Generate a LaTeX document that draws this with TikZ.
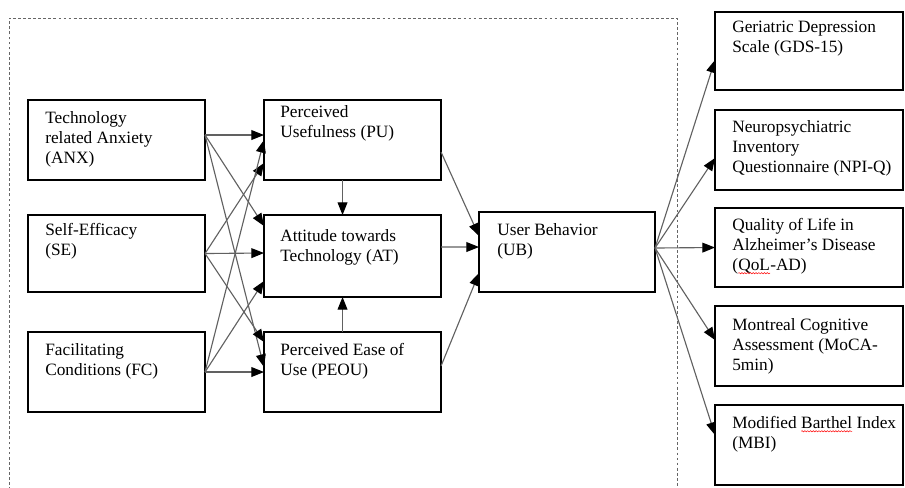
\documentclass[tikz,border=0pt]{standalone}
\usepackage{fontspec}
\setmainfont{Liberation Serif}
\usetikzlibrary{arrows.meta, calc, positioning, decorations.pathmorphing}

\tikzset{
    box/.style={
           rectangle,
           draw=black, line width=1.4pt,
           minimum width=4.425cm,
           minimum height=2cm,
           anchor=north west,
           inner sep=0pt, outer sep=0pt,
           },
    txt/.style={
           anchor=north west,
           inner sep=0pt,
           align=left,
           font=\fontsize{12.3}{14.2}\selectfont,
           },
    conn/.style={
           draw=black!62, line width=0.8pt,
           -{Triangle[length=9pt,width=7pt,color=black]},
           },
    frame/.style={
           draw=black!60, line width=0.6pt,
           dash pattern=on 2pt off 1.6pt,
           },
    squiggle/.style={
           draw=red, line width=0.35pt,
           decorate, decoration={snake, amplitude=0.45pt, segment length=2pt},
           },
}
\newcommand{\redwave}[1]{\tikz[baseline=(wv.base)]{\node[inner sep=0pt, outer sep=0pt] (wv) {#1};
    \draw[squiggle] ([yshift=-2pt]wv.base west) -- ([yshift=-2pt]wv.base east);}}
\newcommand{\TxtANX}{Technology\\related Anxiety\\(ANX)}
\newcommand{\TxtSE}{Self-Efficacy\\(SE)}
\newcommand{\TxtFC}{Facilitating\\Conditions (FC)}
\newcommand{\TxtPU}{Perceived\\Usefulness (PU)}
\newcommand{\TxtAT}{Attitude towards\\Technology (AT)}
\newcommand{\TxtPEOU}{Perceived Ease of\\Use (PEOU)}
\newcommand{\TxtUB}{User Behavior\\(UB)}
\newcommand{\TxtGDS}{Geriatric Depression\\Scale (GDS-15)}
\newcommand{\TxtNPI}{Neuropsychiatric\\Inventory\\Questionnaire (NPI-Q)}
\newcommand{\TxtQOL}{Quality of Life in\\Alzheimer's Disease\\(\redwave{QoL}-AD)}
\newcommand{\TxtMOCA}{Montreal Cognitive\\Assessment (MoCA-\\5min)}
\newcommand{\TxtMBI}{Modified \redwave{Barthel} Index\\(MBI)}

\begin{document}
\begin{tikzpicture}[x=0.025cm, y=-0.025cm]
      \useasboundingbox (0,0) rectangle (905,487);
      \path[frame] (9,500) -- (9,18) -- (677,18) -- (677,500);

      \node[box]                          (anx)  at ( 28, 100) {};
      \node[box, minimum height=1.925cm]  (se)   at ( 28, 215) {};
      \node[box]                          (fc)   at ( 28, 332) {};
      \node[box]                          (pu)   at (264, 100) {};
      \node[box, minimum height=2.05cm]   (at)   at (264, 215) {};
      \node[box]                          (peou) at (264, 332) {};
      \node[box, minimum width=4.4cm]     (ub)   at (479, 212) {};
      \node[box, minimum width=4.7cm, minimum height=1.95cm] (gds)  at (715,  12) {};
      \node[box, minimum width=4.7cm]     (npi)  at (715, 110) {};
      \node[box, minimum width=4.7cm, minimum height=1.975cm] (qol)  at (715, 208) {};
      \node[box, minimum width=4.7cm]     (moca) at (715, 306) {};
      \node[box, minimum width=4.7cm]     (mbi)  at (715, 405) {};

      \node[txt] (anx-t)  at ($(anx.north west)+(17,11)$)  {\TxtANX};
      \node[txt] (se-t)   at ($(se.north west)+(17,8)$)    {\TxtSE};
      \node[txt] (fc-t)   at ($(fc.north west)+(17,11)$)   {\TxtFC};
      \node[txt] (pu-t)   at ($(pu.north west)+(16,5)$)    {\TxtPU};
      \node[txt] (at-t)   at ($(at.north west)+(16,14)$)   {\TxtAT};
      \node[txt] (peou-t) at ($(peou.north west)+(16,11)$) {\TxtPEOU};
      \node[txt] (ub-t)   at ($(ub.north west)+(18,11)$)   {\TxtUB};
      \node[txt] (gds-t)  at ($(gds.north west)+(17,9)$)   {\TxtGDS};
      \node[txt] (npi-t)  at ($(npi.north west)+(17,10)$)  {\TxtNPI};
      \node[txt] (qol-t)  at ($(qol.north west)+(17,10)$)  {\TxtQOL};
      \node[txt] (moca-t) at ($(moca.north west)+(17,12)$) {\TxtMOCA};
      \node[txt] (mbi-t)  at ($(mbi.north west)+(17,11)$)  {\TxtMBI};

      \draw[conn] ($(anx.east)+(0,-5)$) -- ($(pu.west)+(0,-5)$);
      \draw[conn] ($(anx.east)+(0,-5)$) -- ($(at.west)+(0,-30)$);
      \draw[conn] ($(anx.east)+(0,-5)$) -- ($(peou.west)+(0,-5)$);
      \draw[conn] (se.east) -- ($(pu.west)+(0,23)$);
      \draw[conn] (se.east) -- ($(at.west)+(0,-3)$);
      \draw[conn] (se.east) -- ($(peou.west)+(0,-30)$);
      \draw[conn] (fc.east) -- (pu.west);
      \draw[conn] (fc.east) -- ($(at.west)+(0,25)$);
      \draw[conn] (fc.east) -- (peou.west);

      \draw[conn] ($(pu.south)+(-10,0)$)   -- ($(at.north)+(-10,0)$);
      \draw[conn] ($(peou.north)+(-10,0)$) -- ($(at.south)+(-10,0)$);

      \draw[conn] ($(pu.east)+(0,12)$)    -- ($(ub.west)+(0,-16)$);
      \draw[conn] ($(at.east)+(0,-9)$)    -- ($(ub.west)+(0,-5)$);
      \draw[conn] ($(peou.east)+(0,-6)$)  -- ($(ub.west)+(0,21)$);

      \draw[conn] ($(ub.east)+(0,-4)$) -- ($(gds.west)+(0,9)$);
      \draw[conn] ($(ub.east)+(0,-4)$) -- ($(npi.west)+(0,8)$);
      \draw[conn] ($(ub.east)+(0,-4)$) -- (qol.west);
      \draw[conn] ($(ub.east)+(0,-4)$) -- ($(moca.west)+(0,-6)$);
      \draw[conn] ($(ub.east)+(0,-4)$) -- ($(mbi.west)+(0,-10)$);
\end{tikzpicture}
\end{document}
